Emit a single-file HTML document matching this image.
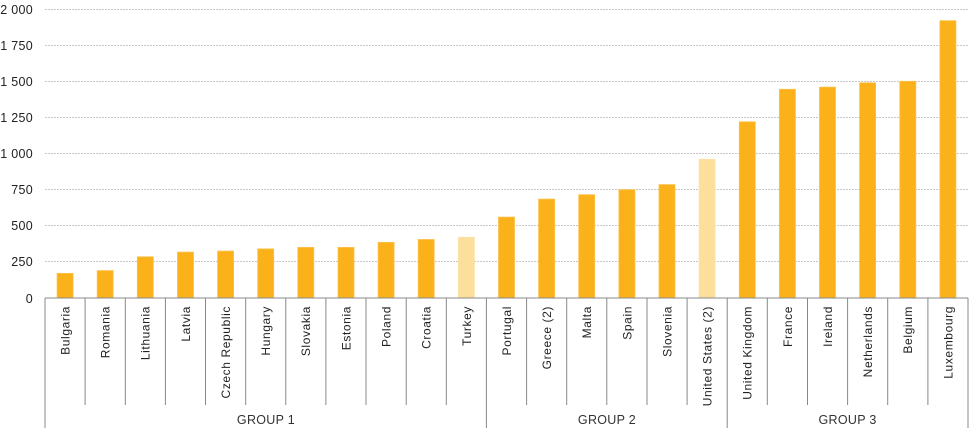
<!DOCTYPE html>
<html><head><meta charset="utf-8"><style>
html,body{margin:0;padding:0;background:#fff;}
svg{display:block;font-family:"Liberation Sans",Arial,sans-serif;}
.g{stroke:#c8c8c8;stroke-width:1;stroke-dasharray:2,1;}
.yl{font-size:12.5px;fill:#222;text-anchor:end;letter-spacing:0.3px;}
.xl{font-size:12px;fill:#222;text-anchor:end;letter-spacing:0.6px;}
.b{fill:#FBB21A;stroke:#FCC04A;stroke-width:0.8;}
.l{fill:#FDDF9C;stroke:#FDE2A8;stroke-width:0.8;}
.t{stroke:#888;stroke-width:1;}
.gl{font-size:12.5px;fill:#333;text-anchor:middle;letter-spacing:0.3px;}
</style></head><body>
<svg width="980" height="444" viewBox="0 0 980 444">
<g class="g">
<line x1="45" y1="9.5" x2="968" y2="9.5"/>
<line x1="45" y1="45.5" x2="968" y2="45.5"/>
<line x1="45" y1="81.5" x2="968" y2="81.5"/>
<line x1="45" y1="117.5" x2="968" y2="117.5"/>
<line x1="45" y1="153.5" x2="968" y2="153.5"/>
<line x1="45" y1="189.5" x2="968" y2="189.5"/>
<line x1="45" y1="225.5" x2="968" y2="225.5"/>
<line x1="45" y1="261.5" x2="968" y2="261.5"/>
</g>
<g class="yl">
<text x="33" y="14">2 000</text>
<text x="33" y="50">1 750</text>
<text x="33" y="86">1 500</text>
<text x="33" y="122">1 250</text>
<text x="33" y="158">1 000</text>
<text x="33" y="194">750</text>
<text x="33" y="230">500</text>
<text x="33" y="266">250</text>
<text x="33" y="303">0</text>
</g>
<rect class="b" x="57.1" y="273.4" width="16" height="24.6"/>
<rect class="b" x="97.2" y="270.6" width="16" height="27.4"/>
<rect class="b" x="137.3" y="256.8" width="16" height="41.2"/>
<rect class="b" x="177.5" y="252.1" width="16" height="45.9"/>
<rect class="b" x="217.6" y="251.1" width="16" height="46.9"/>
<rect class="b" x="257.7" y="248.9" width="16" height="49.1"/>
<rect class="b" x="297.8" y="247.4" width="16" height="50.6"/>
<rect class="b" x="338.0" y="247.4" width="16" height="50.6"/>
<rect class="b" x="378.1" y="242.4" width="16" height="55.6"/>
<rect class="b" x="418.2" y="239.5" width="16" height="58.5"/>
<rect class="l" x="458.4" y="237.3" width="16" height="60.7"/>
<rect class="b" x="498.5" y="217.1" width="16" height="80.9"/>
<rect class="b" x="538.6" y="199.1" width="16" height="98.9"/>
<rect class="b" x="578.7" y="194.7" width="16" height="103.3"/>
<rect class="b" x="618.9" y="189.7" width="16" height="108.3"/>
<rect class="b" x="659.0" y="184.6" width="16" height="113.4"/>
<rect class="l" x="699.1" y="159.3" width="16" height="138.7"/>
<rect class="b" x="739.3" y="121.8" width="16" height="176.2"/>
<rect class="b" x="779.4" y="89.3" width="16" height="208.7"/>
<rect class="b" x="819.5" y="87.1" width="16" height="210.9"/>
<rect class="b" x="859.6" y="82.8" width="16" height="215.2"/>
<rect class="b" x="899.8" y="81.3" width="16" height="216.7"/>
<rect class="b" x="939.9" y="20.7" width="16" height="277.3"/>
<line class="t" x1="45" y1="298" x2="968" y2="298"/>
<g class="t">
<line x1="45" y1="298" x2="45" y2="428"/>
<line x1="85.1" y1="298" x2="85.1" y2="405"/>
<line x1="125.3" y1="298" x2="125.3" y2="405"/>
<line x1="165.4" y1="298" x2="165.4" y2="405"/>
<line x1="205.5" y1="298" x2="205.5" y2="405"/>
<line x1="245.7" y1="298" x2="245.7" y2="405"/>
<line x1="285.8" y1="298" x2="285.8" y2="405"/>
<line x1="325.9" y1="298" x2="325.9" y2="405"/>
<line x1="366.0" y1="298" x2="366.0" y2="405"/>
<line x1="406.2" y1="298" x2="406.2" y2="405"/>
<line x1="446.3" y1="298" x2="446.3" y2="405"/>
<line x1="486.4" y1="298" x2="486.4" y2="428"/>
<line x1="526.6" y1="298" x2="526.6" y2="405"/>
<line x1="566.7" y1="298" x2="566.7" y2="405"/>
<line x1="606.8" y1="298" x2="606.8" y2="405"/>
<line x1="647.0" y1="298" x2="647.0" y2="405"/>
<line x1="687.1" y1="298" x2="687.1" y2="405"/>
<line x1="727.2" y1="298" x2="727.2" y2="428"/>
<line x1="767.3" y1="298" x2="767.3" y2="405"/>
<line x1="807.5" y1="298" x2="807.5" y2="405"/>
<line x1="847.6" y1="298" x2="847.6" y2="405"/>
<line x1="887.7" y1="298" x2="887.7" y2="405"/>
<line x1="927.9" y1="298" x2="927.9" y2="405"/>
<line x1="968" y1="298" x2="968" y2="428"/>
</g>
<g class="xl">
<text transform="translate(69.5,306) rotate(-90)">Bulgaria</text>
<text transform="translate(109.6,306) rotate(-90)">Romania</text>
<text transform="translate(149.7,306) rotate(-90)">Lithuania</text>
<text transform="translate(189.9,306) rotate(-90)">Latvia</text>
<text transform="translate(230.0,306) rotate(-90)">Czech Republic</text>
<text transform="translate(270.1,306) rotate(-90)">Hungary</text>
<text transform="translate(310.2,306) rotate(-90)">Slovakia</text>
<text transform="translate(350.4,306) rotate(-90)">Estonia</text>
<text transform="translate(390.5,306) rotate(-90)">Poland</text>
<text transform="translate(430.6,306) rotate(-90)">Croatia</text>
<text transform="translate(470.8,306) rotate(-90)">Turkey</text>
<text transform="translate(510.9,306) rotate(-90)">Portugal</text>
<text transform="translate(551.0,306) rotate(-90)">Greece (2)</text>
<text transform="translate(591.1,306) rotate(-90)">Malta</text>
<text transform="translate(631.3,306) rotate(-90)">Spain</text>
<text transform="translate(671.4,306) rotate(-90)">Slovenia</text>
<text transform="translate(711.5,306) rotate(-90)">United States (2)</text>
<text transform="translate(751.7,306) rotate(-90)">United Kingdom</text>
<text transform="translate(791.8,306) rotate(-90)">France</text>
<text transform="translate(831.9,306) rotate(-90)">Ireland</text>
<text transform="translate(872.0,306) rotate(-90)">Netherlands</text>
<text transform="translate(912.2,306) rotate(-90)">Belgium</text>
<text transform="translate(952.3,306) rotate(-90)">Luxembourg</text>
</g>
<g class="gl">
<text x="266" y="424">GROUP 1</text>
<text x="607" y="424">GROUP 2</text>
<text x="847.6" y="424">GROUP 3</text>
</g>
</svg>
</body></html>
